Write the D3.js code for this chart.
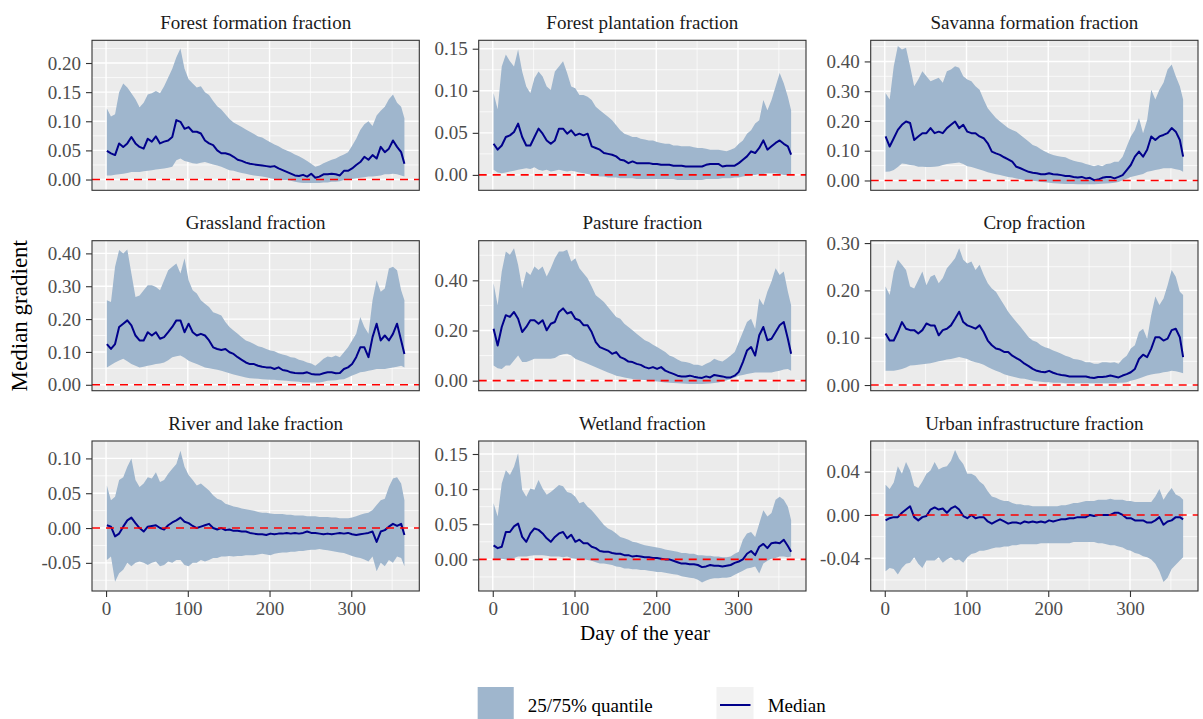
<!DOCTYPE html>
<html>
<head>
<meta charset="utf-8">
<script src="https://cdn.jsdelivr.net/npm/d3@7"></script>
<style>
  html, body { margin: 0; padding: 0; background: #ffffff; }
  svg { display: block; font-family: "Liberation Serif", "Times New Roman", serif; }
</style>
</head>
<body>
<svg id="chart" width="1203" height="719"></svg>
<script>
// Day of the year at which each value is sampled (every 5 days, plus the last day)
const days = d3.range(1, 362, 5).concat([365]);

// ---- Forest formation fraction ----
const forestFormationUpper = [
  0.122,0.108,0.112,0.150,0.165,0.158,0.148,0.138,0.124,0.132,
  0.146,0.148,0.152,0.148,0.160,0.175,0.190,0.210,0.225,0.190,
  0.172,0.165,0.158,0.160,0.150,0.145,0.135,0.126,0.120,0.112,
  0.104,0.098,0.094,0.090,0.086,0.082,0.078,0.074,0.072,0.068,
  0.064,0.060,0.057,0.053,0.050,0.047,0.043,0.040,0.036,0.032,
  0.027,0.022,0.024,0.028,0.031,0.034,0.036,0.040,0.043,0.047,
  0.058,0.070,0.085,0.095,0.100,0.092,0.110,0.118,0.125,0.138,
  0.146,0.132,0.125,0.105];
const forestFormationMedian = [
  0.049,0.045,0.042,0.062,0.056,0.062,0.073,0.062,0.056,0.053,
  0.070,0.065,0.074,0.062,0.065,0.067,0.073,0.102,0.099,0.087,
  0.090,0.082,0.082,0.079,0.067,0.062,0.059,0.050,0.045,0.045,
  0.043,0.039,0.034,0.032,0.029,0.027,0.026,0.025,0.024,0.023,
  0.022,0.023,0.019,0.016,0.013,0.010,0.007,0.006,0.008,0.005,
  0.010,0.003,0.005,0.009,0.009,0.010,0.009,0.007,0.015,0.015,
  0.019,0.025,0.030,0.039,0.034,0.042,0.036,0.056,0.047,0.053,
  0.067,0.056,0.047,0.027];
const forestFormationLower = [
  0.007,0.007,0.008,0.009,0.010,0.011,0.013,0.013,0.013,0.014,
  0.015,0.016,0.017,0.018,0.019,0.020,0.022,0.033,0.036,0.032,
  0.030,0.028,0.027,0.029,0.030,0.028,0.026,0.024,0.022,0.019,
  0.016,0.015,0.013,0.011,0.010,0.008,0.007,0.006,0.005,0.004,
  0.002,0.001,0.000,-0.001,-0.001,-0.002,-0.004,-0.005,-0.006,-0.006,
  -0.006,-0.006,-0.006,-0.005,-0.005,-0.004,-0.004,-0.003,-0.001,0.000,
  0.001,0.002,0.003,0.004,0.005,0.005,0.006,0.007,0.009,0.009,
  0.010,0.009,0.007,0.005];

// ---- Forest plantation fraction ----
const forestPlantationUpper = [
  0.097,0.078,0.129,0.143,0.135,0.129,0.149,0.123,0.105,0.097,
  0.115,0.123,0.117,0.105,0.101,0.123,0.129,0.135,0.121,0.105,
  0.103,0.095,0.095,0.093,0.089,0.081,0.077,0.073,0.069,0.065,
  0.059,0.053,0.049,0.047,0.045,0.045,0.043,0.042,0.041,0.041,
  0.039,0.038,0.037,0.037,0.035,0.035,0.034,0.034,0.034,0.033,
  0.032,0.032,0.031,0.030,0.030,0.030,0.029,0.028,0.030,0.032,
  0.037,0.041,0.049,0.053,0.061,0.065,0.089,0.077,0.089,0.105,
  0.121,0.109,0.093,0.077];
const forestPlantationMedian = [
  0.037,0.030,0.035,0.045,0.047,0.051,0.061,0.045,0.035,0.035,
  0.045,0.055,0.049,0.041,0.037,0.041,0.055,0.055,0.049,0.053,
  0.047,0.049,0.047,0.049,0.034,0.032,0.030,0.026,0.025,0.024,
  0.022,0.018,0.017,0.014,0.016,0.014,0.014,0.014,0.014,0.013,
  0.013,0.012,0.012,0.012,0.011,0.011,0.011,0.010,0.010,0.010,
  0.010,0.010,0.012,0.013,0.013,0.013,0.010,0.011,0.011,0.011,
  0.014,0.018,0.022,0.028,0.026,0.032,0.041,0.030,0.034,0.038,
  0.041,0.037,0.034,0.024];
const forestPlantationLower = [
  0.006,0.003,0.002,0.003,0.004,0.005,0.006,0.007,0.008,0.007,
  0.009,0.006,0.005,0.006,0.004,0.005,0.006,0.005,0.004,0.005,
  0.004,0.003,0.002,0.001,0.000,-0.001,-0.002,-0.002,-0.003,-0.003,
  -0.003,-0.004,-0.004,-0.004,-0.004,-0.005,-0.005,-0.005,-0.005,-0.005,
  -0.005,-0.005,-0.005,-0.005,-0.005,-0.006,-0.006,-0.006,-0.006,-0.006,
  -0.006,-0.006,-0.005,-0.005,-0.005,-0.005,-0.004,-0.004,-0.004,-0.003,
  -0.003,-0.002,-0.001,0.000,0.000,0.001,0.001,0.002,0.002,0.002,
  0.001,0.000,0.000,0.000];

// ---- Savanna formation fraction ----
const savannaUpper = [
  0.294,0.272,0.384,0.452,0.440,0.446,0.384,0.317,0.339,0.367,
  0.350,0.333,0.339,0.345,0.328,0.367,0.373,0.384,0.379,0.350,
  0.339,0.333,0.317,0.305,0.272,0.243,0.226,0.210,0.198,0.187,
  0.176,0.170,0.164,0.153,0.142,0.131,0.119,0.114,0.105,0.097,
  0.091,0.086,0.082,0.080,0.078,0.071,0.066,0.063,0.060,0.055,
  0.052,0.048,0.052,0.048,0.055,0.057,0.063,0.063,0.080,0.114,
  0.148,0.170,0.210,0.159,0.204,0.305,0.272,0.305,0.328,0.373,
  0.390,0.350,0.317,0.272];
const savannaMedian = [
  0.148,0.114,0.142,0.170,0.187,0.198,0.193,0.136,0.148,0.159,
  0.159,0.176,0.159,0.164,0.159,0.176,0.187,0.198,0.176,0.187,
  0.164,0.159,0.159,0.148,0.142,0.125,0.097,0.091,0.086,0.078,
  0.071,0.063,0.046,0.041,0.035,0.029,0.026,0.024,0.021,0.021,
  0.024,0.021,0.020,0.018,0.015,0.015,0.012,0.010,0.012,0.007,
  0.009,0.001,0.003,0.009,0.012,0.012,0.007,0.012,0.018,0.035,
  0.052,0.080,0.097,0.080,0.103,0.148,0.136,0.148,0.153,0.159,
  0.176,0.164,0.136,0.080];
const savannaLower = [
  0.029,0.030,0.035,0.045,0.057,0.055,0.052,0.050,0.046,0.046,
  0.045,0.045,0.046,0.048,0.052,0.055,0.057,0.059,0.060,0.055,
  0.048,0.045,0.041,0.037,0.033,0.028,0.024,0.021,0.018,0.015,
  0.012,0.010,0.007,0.004,0.001,0.000,-0.001,-0.003,-0.005,-0.006,
  -0.008,-0.009,-0.010,-0.011,-0.012,-0.012,-0.012,-0.013,-0.013,-0.013,
  -0.013,-0.013,-0.012,-0.011,-0.010,-0.009,-0.008,-0.005,0.001,0.006,
  0.012,0.015,0.018,0.022,0.029,0.032,0.035,0.038,0.041,0.041,
  0.041,0.038,0.035,0.029];

// ---- Grassland fraction ----
const grasslandUpper = [
  0.257,0.252,0.359,0.410,0.400,0.412,0.339,0.267,0.272,0.288,
  0.303,0.303,0.298,0.288,0.318,0.349,0.359,0.369,0.339,0.385,
  0.318,0.288,0.278,0.257,0.247,0.237,0.221,0.216,0.211,0.191,
  0.176,0.165,0.155,0.145,0.135,0.130,0.124,0.117,0.114,0.109,
  0.104,0.102,0.096,0.092,0.089,0.084,0.082,0.076,0.073,0.068,
  0.065,0.058,0.068,0.079,0.086,0.084,0.089,0.084,0.099,0.114,
  0.135,0.155,0.206,0.176,0.155,0.257,0.318,0.283,0.293,0.354,
  0.359,0.349,0.288,0.257];
const grasslandMedian = [
  0.124,0.109,0.124,0.176,0.186,0.196,0.181,0.150,0.135,0.135,
  0.160,0.150,0.160,0.140,0.145,0.160,0.176,0.196,0.196,0.160,
  0.186,0.160,0.150,0.155,0.150,0.135,0.114,0.109,0.106,0.109,
  0.099,0.094,0.084,0.076,0.068,0.063,0.063,0.058,0.055,0.053,
  0.053,0.048,0.053,0.045,0.043,0.038,0.036,0.035,0.035,0.038,
  0.033,0.031,0.031,0.035,0.038,0.038,0.035,0.036,0.048,0.053,
  0.063,0.084,0.114,0.114,0.084,0.145,0.186,0.135,0.150,0.135,
  0.155,0.186,0.135,0.094];
const grasslandLower = [
  0.053,0.060,0.068,0.074,0.079,0.072,0.063,0.058,0.053,0.055,
  0.058,0.060,0.063,0.065,0.068,0.075,0.084,0.087,0.089,0.082,
  0.073,0.068,0.063,0.058,0.053,0.050,0.048,0.046,0.043,0.039,
  0.035,0.031,0.028,0.025,0.022,0.020,0.019,0.018,0.017,0.016,
  0.015,0.015,0.014,0.013,0.012,0.011,0.010,0.009,0.007,0.007,
  0.007,0.007,0.007,0.009,0.012,0.013,0.014,0.016,0.017,0.022,
  0.028,0.033,0.038,0.040,0.043,0.045,0.048,0.048,0.048,0.050,
  0.053,0.055,0.058,0.053];

// ---- Pasture fraction ----
const pastureUpper = [
  0.388,0.301,0.435,0.515,0.502,0.528,0.462,0.368,0.435,0.421,
  0.455,0.441,0.455,0.415,0.448,0.488,0.515,0.515,0.522,0.475,
  0.488,0.448,0.428,0.408,0.375,0.341,0.328,0.314,0.294,0.274,
  0.254,0.247,0.227,0.214,0.201,0.187,0.174,0.161,0.154,0.143,
  0.134,0.124,0.114,0.100,0.094,0.084,0.076,0.074,0.070,0.063,
  0.063,0.058,0.067,0.074,0.087,0.080,0.076,0.087,0.100,0.114,
  0.154,0.194,0.234,0.247,0.207,0.328,0.301,0.355,0.395,0.448,
  0.421,0.435,0.355,0.301];
const pastureMedian = [
  0.207,0.140,0.214,0.261,0.254,0.274,0.247,0.194,0.214,0.241,
  0.241,0.227,0.241,0.201,0.227,0.234,0.274,0.288,0.268,0.274,
  0.247,0.241,0.221,0.221,0.194,0.154,0.134,0.127,0.120,0.107,
  0.114,0.094,0.087,0.076,0.074,0.067,0.063,0.054,0.049,0.054,
  0.047,0.054,0.040,0.033,0.027,0.020,0.017,0.017,0.020,0.016,
  0.013,0.011,0.017,0.013,0.023,0.020,0.017,0.013,0.013,0.020,
  0.035,0.074,0.120,0.134,0.100,0.181,0.214,0.161,0.167,0.194,
  0.221,0.234,0.167,0.107];
const pastureLower = [
  0.060,0.050,0.047,0.060,0.060,0.080,0.100,0.074,0.074,0.080,
  0.087,0.087,0.087,0.087,0.087,0.090,0.100,0.105,0.107,0.100,
  0.087,0.080,0.074,0.067,0.060,0.053,0.047,0.040,0.033,0.027,
  0.020,0.017,0.013,0.010,0.007,0.005,0.004,0.003,0.000,-0.001,
  -0.003,-0.005,-0.007,-0.008,-0.009,-0.010,-0.011,-0.012,-0.013,-0.013,
  -0.013,-0.013,-0.012,-0.011,-0.009,-0.007,-0.003,0.001,0.007,0.013,
  0.020,0.023,0.027,0.030,0.033,0.033,0.033,0.033,0.033,0.037,
  0.040,0.045,0.047,0.040];

// ---- Crop fraction ----
const cropUpper = [
  0.208,0.190,0.240,0.265,0.254,0.243,0.208,0.204,0.222,0.240,
  0.211,0.229,0.233,0.215,0.226,0.247,0.257,0.268,0.289,0.265,
  0.257,0.261,0.243,0.254,0.233,0.215,0.204,0.197,0.183,0.169,
  0.155,0.144,0.133,0.123,0.112,0.101,0.094,0.091,0.084,0.080,
  0.077,0.073,0.070,0.066,0.062,0.059,0.055,0.054,0.052,0.048,
  0.048,0.045,0.045,0.048,0.048,0.047,0.048,0.045,0.055,0.062,
  0.077,0.084,0.112,0.119,0.098,0.148,0.187,0.169,0.183,0.211,
  0.243,0.229,0.197,0.190];
const cropMedian = [
  0.109,0.094,0.094,0.112,0.133,0.119,0.116,0.116,0.109,0.116,
  0.130,0.126,0.126,0.105,0.116,0.119,0.126,0.140,0.155,0.133,
  0.126,0.123,0.119,0.126,0.112,0.094,0.084,0.077,0.075,0.070,
  0.070,0.062,0.057,0.052,0.045,0.040,0.034,0.030,0.028,0.027,
  0.030,0.026,0.023,0.021,0.020,0.018,0.018,0.018,0.018,0.018,
  0.016,0.015,0.017,0.017,0.018,0.020,0.018,0.016,0.020,0.023,
  0.027,0.034,0.055,0.064,0.059,0.077,0.101,0.101,0.094,0.098,
  0.116,0.119,0.101,0.059];
const cropLower = [
  0.030,0.030,0.030,0.032,0.034,0.037,0.041,0.042,0.043,0.044,
  0.045,0.046,0.048,0.050,0.052,0.054,0.055,0.057,0.059,0.057,
  0.055,0.051,0.048,0.046,0.043,0.038,0.034,0.030,0.027,0.023,
  0.020,0.018,0.016,0.014,0.013,0.011,0.009,0.008,0.007,0.006,
  0.006,0.005,0.005,0.005,0.004,0.004,0.004,0.004,0.004,0.004,
  0.004,0.004,0.004,0.004,0.004,0.004,0.004,0.005,0.005,0.006,
  0.009,0.011,0.014,0.017,0.020,0.022,0.024,0.025,0.027,0.028,
  0.030,0.029,0.027,0.025];

// ---- River and lake fraction ----
const riverLakeUpper = [
  0.061,0.040,0.045,0.069,0.073,0.088,0.100,0.069,0.059,0.064,
  0.073,0.071,0.080,0.066,0.069,0.078,0.085,0.092,0.111,0.088,
  0.076,0.069,0.061,0.064,0.059,0.054,0.047,0.042,0.040,0.035,
  0.033,0.031,0.030,0.028,0.027,0.026,0.025,0.023,0.022,0.022,
  0.021,0.020,0.020,0.020,0.019,0.019,0.018,0.018,0.018,0.017,
  0.017,0.017,0.016,0.016,0.016,0.015,0.015,0.014,0.014,0.014,
  0.015,0.017,0.019,0.021,0.022,0.026,0.033,0.040,0.042,0.059,
  0.071,0.073,0.064,0.040];
const riverLakeMedian = [
  0.004,0.002,-0.012,-0.008,0.002,0.011,0.015,0.007,0.000,-0.005,
  0.002,0.003,0.004,0.000,-0.002,0.004,0.008,0.011,0.015,0.009,
  0.007,0.003,0.000,0.002,0.004,0.006,0.000,-0.002,0.000,-0.003,
  -0.002,-0.004,-0.004,-0.005,-0.005,-0.007,-0.008,-0.009,-0.009,-0.010,
  -0.008,-0.009,-0.008,-0.008,-0.007,-0.008,-0.007,-0.008,-0.007,-0.005,
  -0.007,-0.007,-0.008,-0.009,-0.008,-0.009,-0.008,-0.007,-0.008,-0.007,
  -0.009,-0.010,-0.009,-0.008,-0.007,-0.005,-0.020,-0.005,-0.003,0.002,
  0.006,0.003,0.006,-0.010];
const riverLakeLower = [
  -0.046,-0.041,-0.077,-0.065,-0.060,-0.050,-0.055,-0.050,-0.048,-0.050,
  -0.053,-0.050,-0.048,-0.055,-0.053,-0.048,-0.050,-0.046,-0.046,-0.053,
  -0.055,-0.050,-0.050,-0.046,-0.048,-0.046,-0.043,-0.043,-0.041,-0.041,
  -0.040,-0.041,-0.040,-0.040,-0.039,-0.039,-0.039,-0.038,-0.037,-0.038,
  -0.039,-0.037,-0.036,-0.035,-0.035,-0.034,-0.034,-0.033,-0.033,-0.032,
  -0.031,-0.031,-0.030,-0.031,-0.032,-0.033,-0.034,-0.035,-0.036,-0.038,
  -0.040,-0.042,-0.043,-0.045,-0.048,-0.041,-0.062,-0.050,-0.055,-0.046,
  -0.050,-0.041,-0.043,-0.055];

// ---- Wetland fraction ----
const wetlandUpper = [
  0.080,0.061,0.108,0.127,0.120,0.132,0.151,0.099,0.089,0.101,
  0.099,0.113,0.101,0.092,0.096,0.101,0.106,0.104,0.096,0.094,
  0.089,0.080,0.082,0.075,0.070,0.063,0.056,0.049,0.044,0.041,
  0.037,0.032,0.030,0.028,0.025,0.024,0.022,0.020,0.019,0.018,
  0.017,0.016,0.014,0.013,0.012,0.011,0.009,0.009,0.008,0.008,
  0.006,0.006,0.005,0.005,0.004,0.004,0.003,0.003,0.004,0.008,
  0.011,0.028,0.037,0.039,0.032,0.051,0.070,0.061,0.066,0.085,
  0.089,0.085,0.075,0.056];
const wetlandMedian = [
  0.020,0.016,0.018,0.039,0.039,0.047,0.051,0.032,0.025,0.037,
  0.044,0.042,0.037,0.030,0.025,0.032,0.037,0.039,0.030,0.035,
  0.025,0.028,0.023,0.023,0.018,0.016,0.012,0.011,0.011,0.009,
  0.008,0.008,0.006,0.006,0.004,0.005,0.004,0.003,0.003,0.002,
  0.002,0.001,0.000,0.000,-0.002,-0.004,-0.006,-0.006,-0.007,-0.007,
  -0.008,-0.011,-0.010,-0.008,-0.009,-0.009,-0.010,-0.009,-0.008,-0.005,
  -0.003,0.000,0.008,0.012,0.006,0.018,0.022,0.016,0.023,0.024,
  0.023,0.028,0.019,0.011];
const wetlandLower = [
  0.001,-0.001,0.001,0.000,0.000,0.002,0.004,0.004,0.004,0.005,
  0.006,0.006,0.006,0.005,0.004,0.004,0.004,0.003,0.004,0.002,
  0.001,0.001,0.000,-0.001,-0.002,-0.004,-0.006,-0.006,-0.007,-0.008,
  -0.010,-0.011,-0.013,-0.013,-0.014,-0.014,-0.015,-0.015,-0.016,-0.017,
  -0.018,-0.018,-0.019,-0.020,-0.021,-0.022,-0.024,-0.025,-0.026,-0.027,
  -0.029,-0.033,-0.030,-0.028,-0.027,-0.027,-0.026,-0.026,-0.025,-0.022,
  -0.019,-0.016,-0.013,-0.012,-0.010,-0.020,-0.006,-0.002,0.001,0.002,
  0.004,0.004,0.003,0.004];

// ---- Urban infrastructure fraction ----
const urbanUpper = [
  0.028,0.024,0.030,0.045,0.038,0.049,0.041,0.027,0.025,0.031,
  0.038,0.041,0.049,0.042,0.044,0.045,0.050,0.060,0.052,0.047,
  0.038,0.038,0.036,0.031,0.028,0.022,0.017,0.016,0.014,0.013,
  0.013,0.011,0.010,0.010,0.009,0.009,0.008,0.008,0.008,0.008,
  0.008,0.008,0.008,0.009,0.009,0.010,0.011,0.011,0.012,0.013,
  0.013,0.013,0.014,0.014,0.014,0.015,0.014,0.014,0.014,0.013,
  0.013,0.012,0.012,0.012,0.012,0.012,0.017,0.024,0.014,0.020,
  0.025,0.019,0.017,0.014];
const urbanMedian = [
  -0.005,-0.003,-0.002,-0.002,0.002,0.005,0.008,-0.002,-0.005,-0.002,
  -0.001,0.005,0.007,0.005,0.006,0.002,0.006,0.008,0.005,-0.001,
  -0.003,0.000,-0.003,-0.002,-0.002,-0.006,-0.008,-0.006,-0.004,-0.006,
  -0.008,-0.007,-0.007,-0.008,-0.006,-0.007,-0.006,-0.007,-0.006,-0.007,
  -0.005,-0.006,-0.005,-0.004,-0.004,-0.003,-0.003,-0.002,-0.002,-0.002,
  0.000,-0.001,0.000,0.000,0.000,0.000,0.002,0.002,0.000,-0.003,
  -0.003,-0.005,-0.005,-0.005,-0.007,-0.007,-0.005,-0.002,-0.009,-0.006,
  -0.005,-0.002,-0.002,-0.004];
const urbanLower = [
  -0.052,-0.049,-0.050,-0.055,-0.049,-0.045,-0.044,-0.039,-0.045,-0.049,
  -0.042,-0.042,-0.042,-0.039,-0.044,-0.041,-0.039,-0.042,-0.041,-0.044,
  -0.039,-0.036,-0.035,-0.033,-0.033,-0.032,-0.031,-0.030,-0.030,-0.029,
  -0.029,-0.028,-0.028,-0.027,-0.027,-0.027,-0.027,-0.027,-0.026,-0.026,
  -0.026,-0.026,-0.026,-0.026,-0.026,-0.026,-0.025,-0.025,-0.025,-0.025,
  -0.025,-0.025,-0.026,-0.026,-0.027,-0.028,-0.028,-0.029,-0.030,-0.032,
  -0.033,-0.035,-0.036,-0.038,-0.039,-0.041,-0.045,-0.052,-0.062,-0.058,
  -0.050,-0.046,-0.042,-0.039];

// Panel titles, y ranges and y tick values (one entry per facet, row by row)
const panelTitles = [
  "Forest formation fraction", "Forest plantation fraction", "Savanna formation fraction",
  "Grassland fraction", "Pasture fraction", "Crop fraction",
  "River and lake fraction", "Wetland fraction", "Urban infrastructure fraction"
];
const yDomains = [
  [-0.0185, 0.239], [-0.0183, 0.160], [-0.033, 0.471],
  [-0.018, 0.4386], [-0.040, 0.558], [-0.012, 0.305],
  [-0.0904, 0.125], [-0.045, 0.1685], [-0.0702, 0.0683]
];
const yTickValues = [
  [0, 0.05, 0.10, 0.15, 0.20], [0, 0.05, 0.10, 0.15], [0, 0.10, 0.20, 0.30, 0.40],
  [0, 0.10, 0.20, 0.30, 0.40], [0, 0.20, 0.40], [0, 0.10, 0.20, 0.30],
  [-0.05, 0, 0.05, 0.10], [0, 0.05, 0.10, 0.15], [-0.04, 0, 0.04]
];
const xTickValues = [0, 100, 200, 300];
const xMinorValues = [50, 150, 250, 350];
const legendLabels = ["25/75% quantile", "Median"];

const lowerSeries = [forestFormationLower, forestPlantationLower, savannaLower,
  grasslandLower, pastureLower, cropLower, riverLakeLower, wetlandLower, urbanLower];
const medianSeries = [forestFormationMedian, forestPlantationMedian, savannaMedian,
  grasslandMedian, pastureMedian, cropMedian, riverLakeMedian, wetlandMedian, urbanMedian];
const upperSeries = [forestFormationUpper, forestPlantationUpper, savannaUpper,
  grasslandUpper, pastureUpper, cropUpper, riverLakeUpper, wetlandUpper, urbanUpper];

// ---- Layout & style ----
const colLeft = [92, 478.7, 870.7];
const rowTop = [40.3, 240.7, 441];
const panelW = 327.3, panelH = 150;
const xDomain = [-17.2, 383.2];

const ribbonFill = "#9FB6CD";
const medianColor = "#00008B";
const zeroColor = "#FF0000";
const panelBg = "#EBEBEB";
const tickLen = 6;

const svg = d3.select("#chart");
svg.append("rect").attr("width", 1203).attr("height", 719).attr("fill", "#ffffff");

const fmt = v => (Math.abs(v) < 1e-9 ? 0 : v).toFixed(2);

panelTitles.forEach((title, i) => {
  const col = i % 3, row = Math.floor(i / 3);
  const x0 = colLeft[col], y0 = rowTop[row];
  const g = svg.append("g").attr("transform", `translate(${x0},${y0})`);

  const x = d3.scaleLinear().domain(xDomain).range([0, panelW]);
  const y = d3.scaleLinear().domain(yDomains[i]).range([panelH, 0]);

  const clipId = "clip" + i;
  g.append("clipPath").attr("id", clipId)
    .append("rect").attr("width", panelW).attr("height", panelH);

  g.append("rect").attr("width", panelW).attr("height", panelH).attr("fill", panelBg);

  // minor grid lines halfway between the major breaks
  const ticks = yTickValues[i];
  const step = ticks[1] - ticks[0];
  const yMinor = [];
  for (let v = ticks[0] - step / 2; v <= yDomains[i][1]; v += step) {
    if (v >= yDomains[i][0]) yMinor.push(v);
  }
  const grid = g.append("g").attr("clip-path", `url(#${clipId})`);
  grid.selectAll(".ymin").data(yMinor).join("line")
    .attr("x1", 0).attr("x2", panelW)
    .attr("y1", d => y(d)).attr("y2", d => y(d))
    .attr("stroke", "#ffffff").attr("stroke-width", 0.7);
  grid.selectAll(".xmin").data(xMinorValues).join("line")
    .attr("y1", 0).attr("y2", panelH)
    .attr("x1", d => x(d)).attr("x2", d => x(d))
    .attr("stroke", "#ffffff").attr("stroke-width", 0.7);
  grid.selectAll(".ymaj").data(ticks).join("line")
    .attr("x1", 0).attr("x2", panelW)
    .attr("y1", d => y(d)).attr("y2", d => y(d))
    .attr("stroke", "#ffffff").attr("stroke-width", 1.4);
  grid.selectAll(".xmaj").data(xTickValues).join("line")
    .attr("y1", 0).attr("y2", panelH)
    .attr("x1", d => x(d)).attr("x2", d => x(d))
    .attr("stroke", "#ffffff").attr("stroke-width", 1.4);

  const rows = days.map((d, k) => ({ day: d, lo: lowerSeries[i][k], med: medianSeries[i][k], hi: upperSeries[i][k] }));
  const plot = g.append("g").attr("clip-path", `url(#${clipId})`);

  plot.append("path").datum(rows)
    .attr("fill", ribbonFill)
    .attr("d", d3.area().x(d => x(d.day)).y0(d => y(d.lo)).y1(d => y(d.hi)));

  plot.append("path").datum(rows)
    .attr("fill", "none").attr("stroke", medianColor).attr("stroke-width", 2)
    .attr("stroke-linejoin", "round")
    .attr("d", d3.line().x(d => x(d.day)).y(d => y(d.med)));

  plot.append("line")
    .attr("x1", 0).attr("x2", panelW).attr("y1", y(0)).attr("y2", y(0))
    .attr("stroke", zeroColor).attr("stroke-width", 1.6)
    .attr("stroke-dasharray", "8,6");

  g.append("rect").attr("width", panelW).attr("height", panelH)
    .attr("fill", "none").attr("stroke", "#333333").attr("stroke-width", 1.1);

  // y axis
  const yAxis = g.append("g").call(d3.axisLeft(y).tickValues(ticks).tickFormat(fmt)
    .tickSize(tickLen).tickPadding(5));
  yAxis.select(".domain").remove();
  yAxis.selectAll("line").attr("stroke", "#333333").attr("stroke-width", 1.1);
  yAxis.selectAll("text").attr("fill", "#4D4D4D")
    .style("font-family", '"Liberation Serif", "Times New Roman", serif')
    .style("font-size", "19px");

  // x axis on the bottom row only
  if (row === 2) {
    const xAxis = g.append("g").attr("transform", `translate(0,${panelH})`)
      .call(d3.axisBottom(x).tickValues(xTickValues).tickFormat(d3.format("d"))
        .tickSize(tickLen).tickPadding(5));
    xAxis.select(".domain").remove();
    xAxis.selectAll("line").attr("stroke", "#333333").attr("stroke-width", 1.1);
    xAxis.selectAll("text").attr("fill", "#4D4D4D")
      .style("font-family", '"Liberation Serif", "Times New Roman", serif')
      .style("font-size", "19px");
  }

  g.append("text")
    .attr("x", panelW / 2).attr("y", -11.5)
    .attr("text-anchor", "middle")
    .attr("fill", "#1A1A1A").style("font-size", "19px")
    .text(title);
});

// axis titles
svg.append("text")
  .attr("transform", `translate(27,315.7) rotate(-90)`)
  .attr("text-anchor", "middle").attr("fill", "#000000")
  .style("font-size", "23px")
  .text("Median gradient");

svg.append("text")
  .attr("x", 645).attr("y", 640)
  .attr("text-anchor", "middle").attr("fill", "#000000")
  .style("font-size", "21px")
  .text("Day of the year");

// legend
const legend = svg.append("g");
legend.append("rect").attr("x", 477.7).attr("y", 687).attr("width", 36).attr("height", 36).attr("fill", "#F2F2F2");
legend.append("rect").attr("x", 477.7).attr("y", 687).attr("width", 36).attr("height", 36).attr("fill", ribbonFill);
legend.append("text").attr("x", 527.7).attr("y", 711.5).attr("fill", "#000000")
  .style("font-size", "19px").text(legendLabels[0]);
legend.append("rect").attr("x", 716.5).attr("y", 687).attr("width", 37).attr("height", 36).attr("fill", "#F2F2F2");
legend.append("line").attr("x1", 720).attr("x2", 750.5).attr("y1", 705).attr("y2", 705)
  .attr("stroke", medianColor).attr("stroke-width", 2);
legend.append("text").attr("x", 767.7).attr("y", 711.5).attr("fill", "#000000")
  .style("font-size", "19px").text(legendLabels[1]);
</script>
</body>
</html>
